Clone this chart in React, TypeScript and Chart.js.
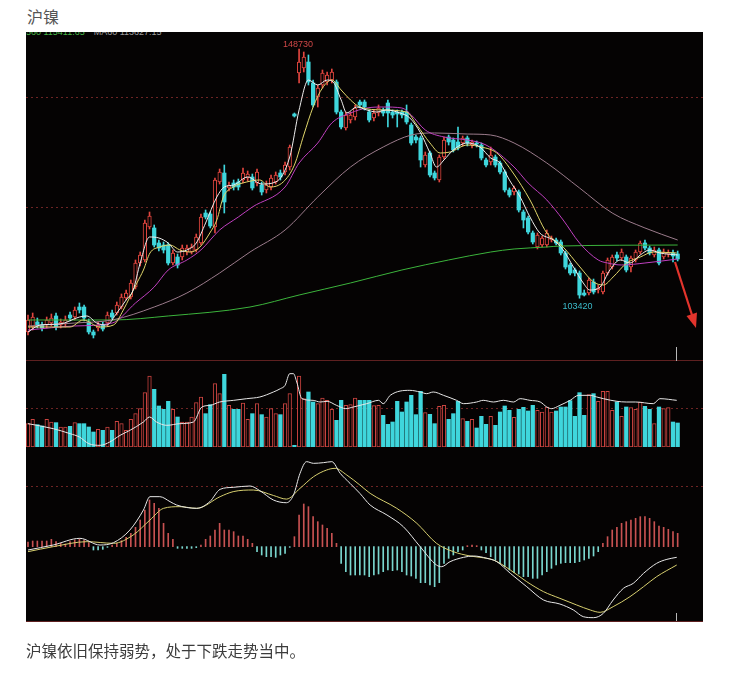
import React, { useEffect, useRef } from 'react';
import { Chart, registerables } from 'chart.js';

Chart.register(...registerables);

// ---------- price (OHLC) ----------
const opens = [97280,98190,99100,98550,98550,98910,100190,98550,98730,100370,
100000,101820,101820,99100,97280,98010,98550,98910,100730,100730,
101820,103460,103640,105460,109820,110370,116370,116190,113460,113090,
113090,109820,110910,110910,111820,111820,112190,113460,118910,118730,
116370,124550,126180,123460,124370,124550,124910,125280,125460,124370,
124000,123090,123640,124550,126180,126370,127270,136910,144360,145270,
146360,142550,140000,142180,142730,143090,142730,137270,134370,135820,
136360,139090,139090,137270,136180,137090,137640,138910,137270,137270,
137270,137270,134910,132730,132550,127640,129820,126180,124910,129090,
132730,132180,131820,131640,132550,131270,131640,131270,128550,128180,
129090,128000,126370,123090,122730,122730,119090,118000,115280,112730,
113090,113090,114000,114000,113640,111640,109460,108550,108000,104370,
104370,106370,104910,104550,108000,109090,111280,110730,110910,109090,
110370,111820,113460,112550,111280,112190,110910,111460,111640,111460];

const closes = [99460,100000,98550,98010,99460,99820,98190,99100,99460,99820,
101280,101280,99820,97280,96730,98550,97820,100370,100000,102190,
103640,104370,106190,109820,111280,117090,118370,113090,112550,112190,
109820,111640,109460,112550,112550,112730,114550,118180,118180,116550,
124910,126370,120910,124000,123640,123640,126180,126000,123460,126370,
122730,124000,125280,125820,125460,127640,130910,136550,146360,147270,
142730,138550,141640,144360,144000,144550,137270,134550,136730,136730,
138000,138550,138180,135820,137090,138000,137090,137090,136730,136910,
136730,135460,131640,132180,128550,129460,125820,125280,129090,132180,
131820,130370,130730,132550,131640,131820,131460,128910,127640,129460,
127640,126370,123090,122180,123460,119460,117640,115460,113640,114910,
114370,115280,114370,113460,111640,109090,108000,108000,104000,104000,
106730,104550,105280,108000,110370,110910,110730,111820,108550,110730,
111820,113460,112550,111640,112190,109820,111820,111640,111090,110550];

const highs = [100370,100730,99820,99100,100000,100550,100730,99640,100190,100910,
101820,102550,102190,99640,97640,99100,99100,100910,101280,102730,
104190,104910,106730,110370,111820,117640,119090,116730,114000,113640,
113460,112190,111460,113090,113090,113280,115090,118730,119460,119090,
125280,126910,127640,124550,124910,125090,127090,126550,126000,126910,
124550,124730,125820,126370,126730,128180,131270,137090,148730,148180,
147640,143090,142180,144910,144550,145090,143090,137640,137270,137270,
138550,139460,139460,137640,137640,138550,138000,139460,137640,137640,
137640,138550,135270,133090,132910,130000,130180,126550,129460,132730,
133090,132550,134550,132910,132910,132180,132000,131640,128910,130910,
129460,128370,126730,123460,123820,123090,119460,118370,115640,115280,
114730,115820,114730,114370,114000,112000,109820,108910,108370,104910,
107100,106910,105820,108370,110730,111280,111820,112370,111280,111090,
112190,113820,114000,112910,112730,112550,112370,112190,112190,112000];

const lows = [96730,97640,98010,97460,98010,98370,97640,98010,98190,99280,
99460,100730,99280,96910,96190,97460,97460,98370,99640,100370,
101460,103100,103280,105100,109280,110000,116000,112730,112000,111640,
109460,109460,108910,110370,111280,111460,111820,113090,117820,116190,
115280,124180,118910,122910,123090,123090,124370,124730,123090,123820,
122180,122550,123090,124180,124910,125820,126730,136360,142550,144550,
142180,138180,138180,141640,142180,142550,136910,134180,134000,135270,
135820,138000,137640,135460,135640,136550,136550,134550,136180,134550,
136180,135090,131270,131640,127270,127270,125460,124910,124550,128730,
131270,130000,130370,131090,131090,130730,130910,128550,127270,127640,
127270,126000,122730,121820,122180,119090,116190,115090,113280,112370,
112730,112730,113640,113090,111280,108730,107640,107460,103420,103820,
104000,104190,104370,104190,107640,108730,110190,110370,108190,108190,
110000,111460,112190,111280,110910,109460,110550,110910,110000,110190];

// moving-average lines (candle index, price)
const ma5Idx = [0,2.6,6.8,11,12.6,14.7,16.8,19,21,22.5,24,26,28,30,32,34,36,38,40.4,42,44,47,50,53,56,58,60,62,64,65.3,67,68.2,70.3,72.5,74.6,76.7,79.6,81.7,84,86,87.4,89,91,94,96.7,99,101,103,105.3,107.4,109.5,112.4,114.5,116.7,118.8,120.2,122.4,124.5,126.7,128.8,131,133,135.2,139];
const ma5Val = [97280,98550,98730,100000,100190,98910,98550,100730,103100,104910,109820,114550,114370,113460,111820,112190,113460,117090,121820,123640,124000,125460,124180,124550,129090,137640,143090,142180,143090,142730,139460,137090,138180,137640,137270,137640,137090,136180,133460,129820,127270,128550,130370,131640,130910,128910,128000,124910,121820,118180,115280,114000,112190,109090,106190,104910,105460,108550,110370,109820,111280,112190,111640,111280];

const ma10Idx = [0,9,11.8,15.4,18.3,20.4,21.8,23.3,24.7,26.1,28.2,30.4,32.5,34.7,36.8,38.9,40.4,41.8,43.9,46.8,49.6,51.8,54.6,57,59,61,63,65,67,69,71,76,81,83.2,86,88.2,90.3,94,97,100.3,103.8,107.4,111,114.5,118.1,121,123.1,125.2,128.1,131,133.8,138.8];
const ma10Val = [98190,98190,99460,98190,98550,101280,103640,106190,108550,111640,112730,113090,112190,111820,112730,115280,117640,121820,123640,124550,124910,123640,124550,127640,133090,138180,141640,143090,141270,139460,138180,137640,137270,134910,131640,129820,130000,131270,130910,129820,126180,121280,115280,112730,109090,106370,105820,107280,109820,110910,111820,111640];

const ma20Idx = [0,10,18,23,27,30,34,37,41,45,48,55,58,62,65,69,72.5,76,80,82,85,89,94,98,104,107,111,114.5,118,122,124,127,132,139];
const ma20Val = [97640,98370,98910,102550,105460,108550,110370,112190,115820,118180,120000,123640,128000,131640,135270,137090,138000,138180,138000,136730,134000,132730,132180,131270,127270,124370,121280,117640,113460,110370,109820,109460,109820,110550];

const ma60Idx = [0,10,18,27,34,41,47.5,55,62,69,76,82,87,94,99,104,111,118,125,132,139];
const ma60Val = [98370,98910,99460,101820,104370,108000,111820,115820,121820,127270,130910,133090,133460,133270,133090,131640,128000,123460,118910,116190,114000];

const maLongIdx = [0,18,30,47.5,58,69,80,90,99,104,111,114,139];
const maLongVal = [99460,99460,100190,101820,104000,106190,108550,110370,111820,112370,112730,112910,113090];

const highLabelIdx = 58;
const lowLabelIdx = 118;
const headerGreen = '560 115411.65';
const headerGray = 'MA60 113627.15';

// ---------- volume ----------
const volumes = [70000,83000,67000,63000,83000,75000,73000,60000,60000,62000,
73000,70000,70000,60000,45000,53000,50000,60000,50000,77000,
70000,50000,83000,100000,115000,163000,213000,173000,123000,113000,
137000,113000,90000,75000,75000,90000,133000,150000,100000,127000,
190000,160000,218000,125000,113000,113000,132000,83000,100000,130000,
97000,90000,115000,100000,97000,130000,160000,5000,213000,145000,
165000,135000,130000,147000,140000,113000,80000,140000,125000,127000,
147000,140000,140000,140000,124000,125000,95000,68000,75000,137000,
105000,135000,155000,97000,167000,103000,98000,70000,122000,125000,
83000,100000,137000,85000,77000,83000,57000,92000,68000,92000,
65000,105000,123000,110000,89000,113000,119000,108000,125000,110000,
105000,120000,105000,108000,120000,120000,139000,92000,163000,95000,
157000,160000,137000,167000,167000,110000,135000,92000,120000,118000,
113000,135000,122000,113000,70000,120000,115000,118000,75000,72000];

const volLineIdx = [0,5.4,9,11,13,15.4,17.5,19.7,21.8,24.7,26,27.5,29.7,32.5,35.4,37.2,39,41,44,46.8,49.6,52.5,54,55,56,56.8,57.5,58.6,61,62.5,64,66,68,69.6,72.5,75,76,77.5,81.7,83.9,85.3,86.7,88.9,91.7,93.2,96,97.4,99.6,101.7,103.9,105.3,107.4,109.6,111,112,113.8,116,117.8,120.3,121.7,123.1,126,128,130,133.8,135.2,138.8];
const volLineVal = [70000,55000,40000,30000,10000,5000,15000,35000,50000,75000,90000,75000,65000,70000,75000,120000,125000,135000,140000,145000,150000,165000,175000,185000,220000,220000,195000,145000,140000,135000,137000,125000,115000,120000,130000,140000,130000,155000,170000,165000,160000,165000,155000,140000,130000,135000,140000,135000,140000,135000,145000,140000,135000,120000,115000,125000,140000,155000,155000,150000,145000,137000,135000,135000,130000,145000,140000];

// ---------- MACD ----------
const macdHist = [150,187,187,187,187,242,165,110,88,165,
220,242,220,132,-110,-110,-88,-22,55,110,
198,308,440,638,880,1210,1540,1430,1265,770,
440,242,-55,-55,-55,-55,-33,55,242,352,
550,770,550,550,495,352,352,242,110,-165,
-275,-330,-330,-352,-275,-220,-22,330,1045,1408,
1320,990,825,715,605,440,110,-550,-825,-935,
-935,-935,-935,-990,-935,-902,-825,-770,-792,-770,
-825,-935,-968,-1045,-1188,-1188,-1265,-1320,-1188,-550,
-385,-275,-165,-110,33,55,33,-110,-198,-330,
-440,-550,-660,-770,-858,-902,-990,-990,-1045,-1045,
-935,-825,-715,-605,-550,-528,-528,-528,-495,-440,
-385,-308,-165,110,330,550,638,770,825,880,
935,990,990,935,825,682,638,572,495,440];

const difIdx = [0,5.4,11.1,15.4,18.3,21.8,24.7,26.1,28.2,30.4,31.8,36.1,38.9,41.1,43.9,47.5,49.6,52.5,55.3,56.8,58.2,59.6,61.1,63.2,65,66.8,68.9,71,73.2,76.8,80.3,83.9,87.4,88.5,90.3,93.2,95.3,98.2,100.3,103.2,106.7,110.3,113.8,116.7,118.8,121,123.1,125.2,127.4,129.5,131.7,134.5,136.7,138.8];
const difVal = [-110,55,275,55,132,550,1210,1650,1650,1485,1375,1265,1485,1892,1958,2002,1848,1540,1450,1705,2420,2805,2750,2772,2805,2420,2090,1760,1375,1045,660,0,-605,-660,-495,-352,-308,-385,-495,-880,-1320,-1760,-1892,-2090,-2310,-2343,-2200,-1760,-1375,-1210,-880,-550,-418,-352];

const deaIdx = [0,5.4,12.6,18.3,22.5,26.1,29,32.5,36.1,41.1,43.9,48.2,52.5,55.3,58.2,61.1,63.9,65.7,68.2,71,73.2,78.9,83.2,87.4,91,94.6,96.7,99.6,103.2,106.7,110.3,113.8,117.4,120.3,122.4,125.2,128.8,131.7,134.5,138.8];
const deaVal = [-165,0,165,110,385,880,1265,1320,1265,1650,1815,1870,1690,1570,1925,2310,2530,2585,2365,2035,1760,1265,770,110,-165,-308,-352,-440,-770,-1155,-1485,-1705,-1925,-2090,-2167,-1980,-1650,-1320,-990,-605];

// ---------- styling ----------
const X_MIN = -0.428;
const X_MAX = 144.42;
const BG = '#050303';
const RED = '#e2463f';
const CYAN = '#3fd6dc';
const HIST_RED = '#c85252';
const HIST_CYAN = '#7ad6ce';

const idxs = opens.map((_, i) => i);
const isUp = (i: number) => closes[i] >= opens[i];
const pts = (ix: number[], v: number[]) => ix.map((x, k) => ({ x, y: v[k] }));

function hgrid(values: number[]) {
  return {
    id: 'hgrid',
    beforeDatasetsDraw(chart: any) {
      const { ctx, chartArea, scales } = chart;
      ctx.save();
      ctx.strokeStyle = '#6e2424';
      ctx.lineWidth = 1;
      ctx.setLineDash([2, 3]);
      for (const v of values) {
        const y = Math.round(scales.y.getPixelForValue(v)) + 0.5;
        ctx.beginPath();
        ctx.moveTo(chartArea.left, y);
        ctx.lineTo(chartArea.right, y);
        ctx.stroke();
      }
      ctx.restore();
    },
  };
}

const extremaLabels = {
  id: 'extremaLabels',
  afterDatasetsDraw(chart: any) {
    const { ctx, scales } = chart;
    ctx.save();
    ctx.font = '9px "Liberation Sans", Arial, sans-serif';
    ctx.textAlign = 'center';
    ctx.textBaseline = 'alphabetic';
    ctx.fillStyle = '#d04848';
    ctx.fillText(String(highs[highLabelIdx]), scales.x.getPixelForValue(highLabelIdx) - 1, scales.y.getPixelForValue(highs[highLabelIdx]) - 2);
    ctx.fillStyle = '#3cbccc';
    ctx.fillText(String(lows[lowLabelIdx]), scales.x.getPixelForValue(lowLabelIdx) - 2, scales.y.getPixelForValue(lows[lowLabelIdx]) + 11);
    ctx.restore();
  },
};

function baseOptions(ymin: number, ymax: number): any {
  return {
    responsive: false,
    animation: false,
    events: [],
    layout: { padding: 0 },
    plugins: { legend: { display: false }, tooltip: { enabled: false } },
    scales: {
      x: { type: 'linear', display: false, min: X_MIN, max: X_MAX, offset: false },
      y: { type: 'linear', display: false, min: ymin, max: ymax, beginAtZero: false },
    },
  };
}

function lineDs(label: string, ix: number[], v: number[], color: string): any {
  return {
    type: 'line', label, data: pts(ix, v), borderColor: color, borderWidth: 1,
    pointRadius: 0, cubicInterpolationMode: 'monotone', fill: false, order: 0,
  };
}

function priceConfig(): any {
  return {
    type: 'bar',
    data: {
      datasets: [
        {
          type: 'bar', label: 'wick',
          data: idxs.map(i => ({ x: i, y: [lows[i], highs[i]] })),
          backgroundColor: idxs.map(i => (isUp(i) ? RED : CYAN)),
          borderWidth: 0, barThickness: 1, grouped: false, order: 2,
        },
        {
          type: 'bar', label: 'body',
          data: idxs.map(i => ({ x: i, y: [Math.min(opens[i], closes[i]), Math.max(opens[i], closes[i])] })),
          backgroundColor: idxs.map(i => (isUp(i) ? BG : CYAN)),
          borderColor: idxs.map(i => (isUp(i) ? RED : CYAN)),
          borderWidth: idxs.map(i => (isUp(i) ? 1 : 0)),
          borderSkipped: false, barThickness: 3.6, minBarLength: 1, grouped: false, order: 1,
        },
        lineDs('MA5', ma5Idx, ma5Val, '#eeeeee'),
        lineDs('MA10', ma10Idx, ma10Val, '#e2d86c'),
        lineDs('MA20', ma20Idx, ma20Val, '#c040c0'),
        lineDs('MA60', ma60Idx, ma60Val, '#9c7c8c'),
        lineDs('MA250', maLongIdx, maLongVal, '#3cb43c'),
      ],
    },
    options: baseOptions(92187, 151635),
    plugins: [hgrid([120000, 140000]), extremaLabels],
  };
}

function volumeConfig(): any {
  return {
    type: 'bar',
    data: {
      datasets: [
        {
          type: 'bar', label: 'VOL',
          data: idxs.map(i => ({ x: i, y: volumes[i] })),
          backgroundColor: idxs.map(i => (isUp(i) ? BG : CYAN)),
          borderColor: idxs.map(i => (isUp(i) ? '#cc4440' : CYAN)),
          borderWidth: idxs.map(i => (isUp(i) ? 1 : 0)),
          borderSkipped: false, barThickness: 3.6, grouped: false, order: 1,
        },
        lineDs('OI', volLineIdx, volLineVal, '#e6e6e6'),
      ],
    },
    options: baseOptions(0, 258000),
    plugins: [hgrid([117000])],
  };
}

function macdConfig(): any {
  return {
    type: 'bar',
    data: {
      datasets: [
        {
          type: 'bar', label: 'MACD',
          data: idxs.map(i => ({ x: i, y: macdHist[i] })),
          backgroundColor: idxs.map(i => (macdHist[i] >= 0 ? HIST_RED : HIST_CYAN)),
          borderWidth: 0, barThickness: 1, grouped: false, order: 1,
        },
        lineDs('DIF', difIdx, difVal, '#e8e8e8'),
        lineDs('DEA', deaIdx, deaVal, '#d8d070'),
      ],
    },
    options: baseOptions(-2453, 3289),
    plugins: [hgrid([2000])],
  };
}

export default function App() {
  const priceRef = useRef<HTMLCanvasElement>(null);
  const volRef = useRef<HTMLCanvasElement>(null);
  const macdRef = useRef<HTMLCanvasElement>(null);

  useEffect(() => {
    const charts = [
      new Chart(priceRef.current as HTMLCanvasElement, priceConfig()),
      new Chart(volRef.current as HTMLCanvasElement, volumeConfig()),
      new Chart(macdRef.current as HTMLCanvasElement, macdConfig()),
    ];
    return () => charts.forEach(c => c.destroy());
  }, []);

  const cjk = '"Noto Sans CJK SC", "Noto Sans", sans-serif';
  const abs = (l: number, t: number, w: number, h: number): any => ({ position: 'absolute', left: l, top: t, width: w, height: h });

  return (
    <div style={{ position: 'relative', width: 736, height: 675, margin: -8, background: '#fff', overflow: 'hidden' }}>
      <div style={{ position: 'absolute', left: 27, top: 8, fontFamily: cjk, fontSize: 16, lineHeight: '16px', color: '#555' }}>沪镍</div>

      <div style={{ ...abs(26, 32, 677, 590), background: BG, overflow: 'hidden' }}>
        <div style={{ position: 'absolute', left: 0, top: -4, fontFamily: '"Liberation Sans", Arial, sans-serif', fontSize: 9, lineHeight: '9px', whiteSpace: 'nowrap' }}>
          <span style={{ color: '#46b446' }}>{headerGreen}</span>
          <span style={{ color: '#9c9c9c', marginLeft: 9 }}>{headerGray}</span>
        </div>
      </div>

      <canvas ref={priceRef} width={677} height={327} style={abs(26, 33, 677, 327)} />
      <canvas ref={volRef} width={677} height={86} style={abs(26, 361, 677, 86)} />
      <canvas ref={macdRef} width={677} height={174} style={abs(26, 447, 677, 174)} />

      <svg width={736} height={675} style={{ position: 'absolute', left: 0, top: 0, pointerEvents: 'none' }}>
        <line x1={26} x2={703} y1={360.5} y2={360.5} stroke="#5e2020" strokeWidth={1} />
        <line x1={26} x2={703} y1={621.5} y2={621.5} stroke="#5e2020" strokeWidth={1} />
        <line x1={676.5} x2={676.5} y1={347} y2={361} stroke="#b8b8b8" strokeWidth={1} />
        <line x1={676.5} x2={676.5} y1={613} y2={621} stroke="#b8b8b8" strokeWidth={1} />
        <line x1={699} x2={703} y1={259.5} y2={259.5} stroke="#b8b8b8" strokeWidth={1} />
        <line x1={675} y1={262} x2={692} y2={315} stroke="#e3342c" strokeWidth={2.2} />
        <polygon points="696,328 686.5,316 697,312.5" fill="#e3342c" />
      </svg>

      <div style={{ position: 'absolute', left: 26, top: 642, fontFamily: cjk, fontSize: 15.5, lineHeight: '16px', color: '#3c3c3c', whiteSpace: 'nowrap' }}>
        沪镍依旧保持弱势，处于下跌走势当中。
      </div>
    </div>
  );
}
